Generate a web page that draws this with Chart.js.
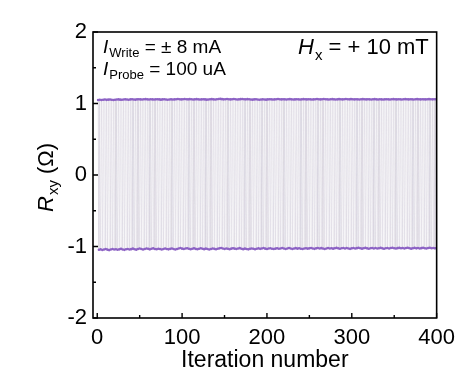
<!DOCTYPE html>
<html>
<head>
<meta charset="utf-8">
<script src="https://cdn.jsdelivr.net/npm/chart.js@4/dist/chart.umd.min.js"></script>
<style>
html,body{margin:0;padding:0;background:#fff;}
#wrap{width:462px;height:374px;position:relative;}
</style>
</head>
<body>
<div id="wrap"><canvas id="rxy" width="462" height="374"></canvas></div>
<script>
// R_xy read at each write pulse: odd iterations switch up, even ones switch down
var highStates=[
1.050,1.052,1.049,1.053,1.055,1.051,1.054,1.056,1.053,1.050,1.052,1.055,1.057,1.054,1.052,1.056,1.058,1.055,1.053,1.057,
1.059,1.056,1.054,1.058,1.060,1.057,1.055,1.059,1.061,1.058,1.056,1.059,1.057,1.055,1.058,1.060,1.057,1.054,1.057,1.059,
1.056,1.053,1.056,1.058,1.055,1.057,1.060,1.062,1.059,1.057,1.060,1.063,1.060,1.058,1.061,1.059,1.056,1.058,1.061,1.058,
1.055,1.057,1.060,1.057,1.054,1.056,1.059,1.061,1.058,1.056,1.059,1.062,1.064,1.061,1.058,1.060,1.063,1.060,1.057,1.059,
1.062,1.059,1.056,1.058,1.061,1.063,1.060,1.058,1.061,1.059,1.056,1.054,1.057,1.059,1.056,1.053,1.055,1.058,1.056,1.054,
1.057,1.060,1.058,1.055,1.057,1.060,1.062,1.059,1.057,1.060,1.058,1.056,1.059,1.061,1.058,1.055,1.057,1.060,1.058,1.056,
1.058,1.061,1.059,1.057,1.060,1.058,1.055,1.057,1.060,1.062,1.059,1.057,1.059,1.062,1.060,1.058,1.056,1.059,1.061,1.058,
1.056,1.058,1.061,1.059,1.057,1.060,1.062,1.060,1.058,1.061,1.059,1.057,1.060,1.058,1.056,1.059,1.061,1.059,1.057,1.060,
1.058,1.056,1.059,1.061,1.058,1.056,1.059,1.057,1.055,1.058,1.060,1.058,1.056,1.059,1.061,1.059,1.057,1.060,1.058,1.056,
1.059,1.061,1.059,1.057,1.060,1.058,1.056,1.059,1.061,1.059,1.057,1.060,1.058,1.057,1.059,1.061,1.059,1.058,1.060,1.059
];
var lowStates=[
-1.045,-1.040,-1.048,-1.042,-1.036,-1.044,-1.050,-1.041,-1.035,-1.043,-1.038,-1.046,-1.040,-1.033,-1.041,-1.047,-1.039,-1.034,-1.042,-1.037,
-1.030,-1.038,-1.044,-1.036,-1.029,-1.035,-1.042,-1.034,-1.027,-1.033,-1.040,-1.032,-1.026,-1.034,-1.039,-1.031,-1.036,-1.042,-1.035,-1.029,
-1.034,-1.040,-1.033,-1.027,-1.035,-1.041,-1.034,-1.028,-1.022,-1.030,-1.036,-1.029,-1.024,-1.031,-1.038,-1.032,-1.026,-1.033,-1.039,-1.031,
-1.025,-1.032,-1.037,-1.030,-1.035,-1.041,-1.034,-1.028,-1.033,-1.039,-1.031,-1.026,-1.020,-1.028,-1.034,-1.027,-1.032,-1.038,-1.030,-1.024,
-1.030,-1.036,-1.029,-1.023,-1.031,-1.037,-1.030,-1.035,-1.040,-1.033,-1.027,-1.032,-1.038,-1.031,-1.026,-1.033,-1.028,-1.022,-1.030,-1.035,
-1.029,-1.024,-1.031,-1.036,-1.030,-1.025,-1.032,-1.027,-1.021,-1.028,-1.034,-1.027,-1.022,-1.029,-1.035,-1.028,-1.023,-1.030,-1.025,-1.031,
-1.036,-1.029,-1.024,-1.030,-1.026,-1.020,-1.027,-1.033,-1.026,-1.021,-1.028,-1.023,-1.029,-1.034,-1.027,-1.022,-1.028,-1.024,-1.030,-1.025,
-1.019,-1.026,-1.032,-1.025,-1.020,-1.027,-1.022,-1.028,-1.033,-1.026,-1.021,-1.027,-1.023,-1.018,-1.025,-1.030,-1.024,-1.019,-1.026,-1.031,
-1.025,-1.020,-1.027,-1.022,-1.028,-1.024,-1.019,-1.026,-1.031,-1.024,-1.020,-1.027,-1.022,-1.017,-1.024,-1.029,-1.023,-1.019,-1.025,-1.021,
-1.027,-1.022,-1.018,-1.025,-1.030,-1.024,-1.019,-1.026,-1.021,-1.027,-1.023,-1.018,-1.024,-1.029,-1.022,-1.018,-1.025,-1.020,-1.026,-1.022
];
var xTicks=[0,100,200,300,400];
var xMinorTicks=[50,150,250,350];
var yTicks=[-2,-1,0,1,2];
var yMinorTicks=[-1.5,-0.5,0.5,1.5];

var FONT='"Liberation Sans", Arial, Helvetica, sans-serif';

// interleave the two states into one trace, iteration by iteration
var points=[];
for(var k=0;k<highStates.length;k++){
  points.push({x:2*k+1,y:highStates[k]});
  points.push({x:2*k+2,y:lowStates[k]});
}

// writes a run of text pieces (plain / italic / subscript) starting at x,y baseline
function drawRich(ctx,x,y,parts){
  parts.forEach(function(p){
    ctx.font=(p.italic?'italic ':'')+p.size+'px '+FONT;
    ctx.fillText(p.t,x,y+(p.dy||0));
    x+=ctx.measureText(p.t).width+(p.gap||0);
  });
}

var framePlugin={
  id:'frame',
  afterDraw:function(chart){
    var ctx=chart.ctx, a=chart.chartArea;
    var xs=chart.scales.x, ys=chart.scales.y;
    ctx.save();
    ctx.strokeStyle='#000';
    ctx.lineWidth=1.6;
    ctx.strokeRect(a.left,a.top,a.right-a.left,a.bottom-a.top);
    ctx.lineWidth=1.4;
    ctx.beginPath();
    xTicks.forEach(function(v){var px=xs.getPixelForValue(v);ctx.moveTo(px,a.bottom);ctx.lineTo(px,a.bottom-5);});
    xMinorTicks.forEach(function(v){var px=xs.getPixelForValue(v);ctx.moveTo(px,a.bottom);ctx.lineTo(px,a.bottom-3);});
    yTicks.forEach(function(v){var py=ys.getPixelForValue(v);ctx.moveTo(a.left,py);ctx.lineTo(a.left+5,py);});
    yMinorTicks.forEach(function(v){var py=ys.getPixelForValue(v);ctx.moveTo(a.left,py);ctx.lineTo(a.left+3,py);});
    ctx.stroke();

    ctx.fillStyle='#000';
    ctx.textBaseline='alphabetic';
    ctx.textAlign='left';
    drawRich(ctx,103,53,[{t:'I',size:19,italic:true,gap:1},{t:'Write',size:13,dy:4},{t:' = \u00b1 8 mA',size:19}]);
    drawRich(ctx,103,75,[{t:'I',size:19,italic:true,gap:1},{t:'Probe',size:13,dy:4},{t:' = 100 uA',size:19}]);
    drawRich(ctx,298,54,[{t:'H',size:22,italic:true,gap:1},{t:'x',size:15,dy:6},{t:' = + 10 mT',size:22}]);

    // x title
    ctx.font='23px '+FONT;
    ctx.textAlign='center';
    ctx.fillText('Iteration number',(a.left+a.right)/2,367);

    // y title, rotated
    ctx.translate(53,212);
    ctx.rotate(-Math.PI/2);
    ctx.textAlign='left';
    drawRich(ctx,0,0,[{t:'R',size:22,italic:true,gap:1},{t:'xy',size:15,dy:5},{t:' (\u03a9)',size:22}]);
    ctx.restore();
  }
};

new Chart(document.getElementById('rxy').getContext('2d'),{
  type:'line',
  data:{
    datasets:[{
      data:points,
      borderColor:'rgba(170,160,185,0.2)',
      borderWidth:1,
      pointRadius:1.3,
      pointBorderWidth:0,
      pointBackgroundColor:'#8c62c4',
      tension:0,
      fill:false
    }]
  },
  options:{
    responsive:false,
    animation:false,
    devicePixelRatio:1,
    layout:{padding:{top:32,right:21,left:0,bottom:0}},
    plugins:{legend:{display:false},tooltip:{enabled:false}},
    scales:{
      x:{
        type:'linear',
        min:-5,max:400,
        afterBuildTicks:function(s){s.ticks=xTicks.map(function(v){return {value:v};});},
        afterFit:function(s){s.height=56;},
        grid:{display:false,drawTicks:false},
        border:{display:false},
        ticks:{font:{family:FONT,size:22},color:'#000',padding:7,maxRotation:0}
      },
      y:{
        min:-2,max:2,
        afterBuildTicks:function(s){s.ticks=yTicks.map(function(v){return {value:v};});},
        afterFit:function(s){s.width=93;},
        grid:{display:false,drawTicks:false},
        border:{display:false},
        ticks:{font:{family:FONT,size:22},color:'#000',padding:6}
      }
    }
  },
  plugins:[framePlugin]
});
</script>
</body>
</html>
